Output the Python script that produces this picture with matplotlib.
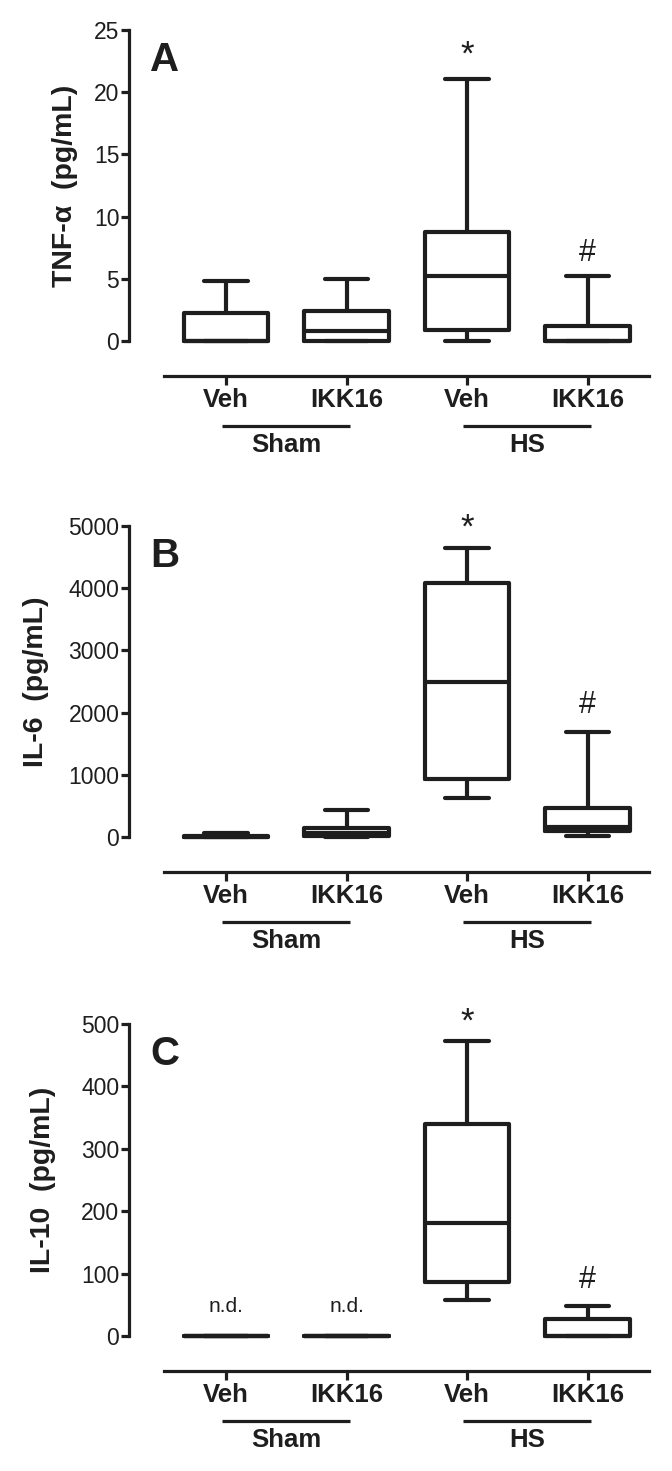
import numpy as np
import matplotlib
matplotlib.use('Agg')
import matplotlib.pyplot as plt

plt.rcParams['font.family'] = ['Liberation Sans', 'DejaVu Sans']

# groups and treatments
categories = ['Veh', 'IKK16', 'Veh', 'IKK16']
groups = ['Sham', 'HS']

# TNF-alpha (pg/mL)
tnf_lo = [0, 0, 0, 0]
tnf_q1 = [0, 0, 0.9, 0]
tnf_med = [0, 0.8, 5.2, 0]
tnf_q3 = [2.25, 2.4, 8.8, 1.2]
tnf_hi = [4.8, 5.0, 21.1, 5.2]

# IL-6 (pg/mL)
il6_lo = [0, 0, 630, 20]
il6_q1 = [0, 10, 930, 90]
il6_med = [5, 60, 2490, 160]
il6_q3 = [15, 140, 4080, 470]
il6_hi = [60, 430, 4650, 1690]

# IL-10 (pg/mL)
il10_lo = [0, 0, 58, 0]
il10_q1 = [0, 0, 87, 0]
il10_med = [0, 0, 181, 0]
il10_q3 = [0, 0, 340, 27]
il10_hi = [0, 0, 473, 48]

# significance marks: (category index, y value, text)
tnf_marks = [(2, 23.0, '*'), (3, 7.1, '#')]
il6_marks = [(2, 4960, '*'), (3, 2120, '#')]
il10_marks = [(0, 47, 'n.d.'), (1, 47, 'n.d.'), (2, 503, '*'), (3, 90, '#')]

ink = '#1e1e1e'
lw_box = 3.0
lw_ax = 2.3

fig = plt.figure(figsize=(6.72, 14.71), dpi=100)

panels = [
    ('A', 'TNF-α  (pg/mL)', (tnf_lo, tnf_q1, tnf_med, tnf_q3, tnf_hi), 25, 5, tnf_marks,
     [0.1920, 0.76819, 0.7738, 0.21142], -0.098),
    ('B', 'IL-6  (pg/mL)', (il6_lo, il6_q1, il6_med, il6_q3, il6_hi), 5000, 1000, il6_marks,
     [0.1920, 0.43100, 0.7738, 0.21142], -0.154),
    ('C', 'IL-10  (pg/mL)', (il10_lo, il10_q1, il10_med, il10_q3, il10_hi), 500, 100, il10_marks,
     [0.1920, 0.09177, 0.7738, 0.21210], -0.140),
]

x = np.arange(len(categories))

for letter, ylab, (lo, q1, med, q3, hi), ymax, ystep, marks, rect, labx in panels:
    ax = fig.add_axes(rect)
    stats = []
    for i in range(len(categories)):
        stats.append(dict(whislo=lo[i], q1=q1[i], med=med[i], q3=q3[i], whishi=hi[i]))
    art = ax.bxp(stats, positions=x, widths=0.70, capwidths=0.36, showfliers=False,
                 boxprops=dict(color=ink, linewidth=lw_box),
                 medianprops=dict(color=ink, linewidth=lw_box),
                 whiskerprops=dict(color=ink, linewidth=lw_box),
                 capprops=dict(color=ink, linewidth=lw_box))
    for key in art:
        for a in art[key]:
            a.set_clip_on(False)
            a.set_solid_joinstyle('round')
            a.set_solid_capstyle('round')

    ax.set_xlim(-0.805, 3.51)
    ax.set_ylim(0, ymax)
    ax.set_yticks(np.arange(0, ymax + ystep / 2, ystep))
    ax.set_xticks(x)
    ax.set_xticklabels(categories)

    for s in ['top', 'right']:
        ax.spines[s].set_visible(False)
    ax.spines['left'].set_linewidth(lw_ax)
    ax.spines['left'].set_color(ink)
    ax.spines['bottom'].set_linewidth(lw_ax)
    ax.spines['bottom'].set_color(ink)
    ax.spines['bottom'].set_position(('outward', 25.2))
    ax.spines['bottom'].set_bounds(-0.515, 3.51)
    ax.tick_params(axis='y', length=6, width=lw_ax, color=ink, labelsize=16.5,
                   labelcolor=ink, pad=1)
    ax.tick_params(axis='x', length=6.5, width=lw_ax, color=ink, labelsize=18.5,
                   labelcolor=ink, pad=2)
    for t in ax.get_xticklabels():
        t.set_fontweight('bold')

    ax.set_ylabel(ylab, fontsize=20.5, fontweight='bold', color=ink)
    ax.yaxis.set_label_coords(labx, 0.5)

    trans = ax.get_xaxis_transform()
    ax.text(-0.506, 0.904, letter, transform=trans, fontsize=29, fontweight='bold',
            color=ink, ha='center', va='center')

    # group bars under the treatment labels
    for g, name in enumerate(groups):
        x0 = x[2 * g] - 0.03
        x1 = x[2 * g + 1] + 0.03
        ax.plot([x0, x1], [-0.273, -0.273], transform=trans, color=ink,
                linewidth=lw_ax, clip_on=False, solid_capstyle='butt')
        ax.text((x[2 * g] + x[2 * g + 1]) / 2, -0.334, name, transform=trans,
                fontsize=18.5, fontweight='bold', color=ink, ha='center', va='center')

    for idx, yv, txt in marks:
        if txt == 'n.d.':
            ax.text(x[idx], yv, txt, fontsize=15, color=ink, ha='center', va='center')
        elif txt == '*':
            ax.text(x[idx], yv, txt, fontsize=25, color=ink, ha='center', va='center')
        else:
            ax.text(x[idx], yv, txt, fontsize=22, color=ink, ha='center', va='center')

fig.savefig('out.png', dpi=100, facecolor='white')
